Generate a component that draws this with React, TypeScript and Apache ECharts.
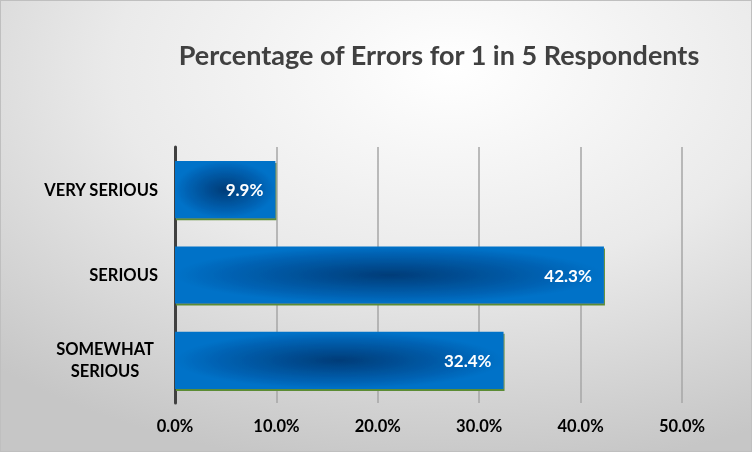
import React, { useEffect, useRef } from "react";
import * as echarts from "echarts";

const categories = ["SOMEWHAT\nSERIOUS", "SERIOUS", "VERY SERIOUS"];
const values = [32.4, 42.3, 9.9];
const xTicks = [0, 10, 20, 30, 40, 50];
const titleText = "Percentage of Errors for 1 in 5 Respondents";

export default function App() {
  const ref = useRef<HTMLDivElement>(null);
  useEffect(() => {
    if (!ref.current) return;
    const chart = echarts.init(ref.current, null, { renderer: "svg" });
    const font = "Lato";
    chart.setOption({
      animation: false,
      backgroundColor: {
        type: "radial",
        x: 0.6,
        y: 0.15,
        r: 0.9,
        colorStops: [
          { offset: 0, color: "#ffffff" },
          { offset: 0.5, color: "#eaeaea" },
          { offset: 1, color: "#c6c6c6" },
        ],
      },
      title: {
        text: titleText,
        left: 433,
        top: 35,
        textAlign: "center",
        textStyle: { fontFamily: font, fontSize: 27, fontWeight: "bold", color: "#404040" },
      },
      grid: { left: 174, right: 69, top: 146, bottom: 48, containLabel: false },
      xAxis: {
        type: "value",
        min: xTicks[0],
        max: xTicks[xTicks.length - 1],
        interval: 10,
        axisLine: { show: false },
        axisTick: { show: false },
        splitLine: { show: true, lineStyle: { color: "#a6a6a6", width: 1.5 } },
        axisLabel: {
          margin: 14,
          fontFamily: font,
          fontSize: 16.5,
          fontWeight: "bold",
          color: "#000",
          formatter: (v: number) => v.toFixed(1) + "%",
        },
      },
      yAxis: {
        type: "category",
        data: categories,
        axisTick: { show: false },
        axisLine: { show: true, lineStyle: { color: "#404040", width: 3 } },
        axisLabel: {
          margin: 17,
          fontFamily: font,
          fontSize: 16.5,
          fontWeight: "bold",
          color: "#000",
          lineHeight: 22,
          formatter: (v: string) =>
            v.indexOf("\n") >= 0 ? v.split("\n").map((s) => `{c|${s}}`).join("\n") : v,
          rich: {
            c: { width: 106, align: "center", fontFamily: font, fontSize: 16.5, fontWeight: "bold", color: "#000", lineHeight: 22 },
          },
        },
      },
      series: [
        {
          type: "bar",
          data: values,
          barCategoryGap: "33%",
          itemStyle: {
            color: {
              type: "radial",
              x: 0.5,
              y: 0.5,
              r: 0.5,
              colorStops: [
                { offset: 0, color: "#003c78" },
                { offset: 0.75, color: "#0062b3" },
                { offset: 1, color: "#0072c8" },
              ],
            },
            shadowColor: "#5b8c36",
            shadowOffsetX: 1,
            shadowOffsetY: 2,
            shadowBlur: 0,
          },
          label: {
            show: true,
            position: "insideRight",
            distance: 12,
            fontFamily: font,
            fontSize: 17,
            fontWeight: "bold",
            color: "#ffffff",
            formatter: (p: any) => p.value.toFixed(1) + "%",
          },
        },
      ],
    });
    return () => chart.dispose();
  }, []);
  return (
    <div
      ref={ref}
      style={{ position: "fixed", left: 0, top: 0, width: 752, height: 452, boxSizing: "border-box", border: "1px solid #bfbfbf" }}
    />
  );
}
